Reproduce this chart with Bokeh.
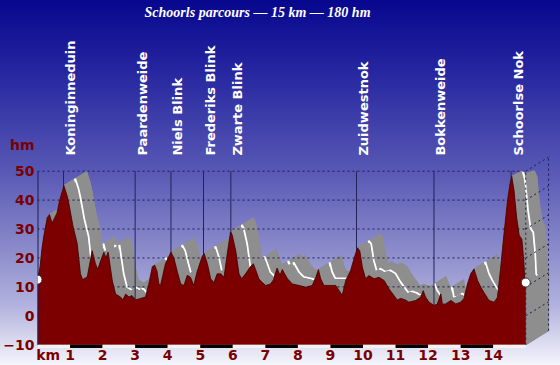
import math
from bokeh.plotting import figure
from bokeh.models import Range1d, FixedTicker
from bokeh.core.properties import value
from bokeh.embed import file_html
from bokeh.resources import INLINE

# ---------------- data ----------------
km = [0.00, 0.08, 0.14, 0.20, 0.30, 0.37, 0.45, 0.53, 0.60, 0.68, 0.81, 0.91, 0.96,
      1.09, 1.22, 1.32, 1.39, 1.53, 1.68, 1.78, 1.85, 1.94, 2.04, 2.10, 2.17, 2.30,
      2.40, 2.55, 2.62, 2.71, 2.81, 2.90, 3.01, 3.17, 3.32, 3.42, 3.53, 3.60, 3.67,
      3.73, 3.78, 3.85, 3.93, 4.10, 4.19, 4.29, 4.40, 4.50, 4.60, 4.70, 4.80, 4.91,
      5.06, 5.12, 5.22, 5.32, 5.42, 5.52, 5.63, 5.73, 5.83, 5.93, 5.98, 6.09, 6.19,
      6.27, 6.39, 6.53, 6.63, 6.70, 6.80, 6.90, 7.01, 7.16, 7.25, 7.36, 7.45, 7.52,
      7.68, 7.83, 8.03, 8.24, 8.44, 8.55, 8.63, 8.70, 8.80, 8.96, 9.16, 9.31, 9.36,
      9.47, 9.62, 9.74, 9.83, 9.90, 9.98, 10.08, 10.18, 10.34, 10.49, 10.65, 10.80,
      10.95, 11.05, 11.16, 11.30, 11.41, 11.62, 11.77, 11.85, 11.92, 12.03, 12.18,
      12.28, 12.39, 12.44, 12.54, 12.70, 12.85, 13.00, 13.10, 13.21, 13.31, 13.41,
      13.52, 13.62, 13.72, 13.87, 14.03, 14.13, 14.23, 14.33, 14.44, 14.51, 14.57,
      14.64, 14.72, 14.80, 14.88, 14.94, 14.97, 15.00]
hm = [12.5, 17.0, 23.5, 28.0, 34.0, 35.0, 32.0, 34.0, 35.5, 40.0, 45.0, 41.5, 39.0,
      31.0, 25.0, 14.5, 12.5, 13.5, 22.5, 18.0, 16.0, 19.0, 22.0, 20.0, 22.0, 12.0,
      7.5, 6.5, 5.5, 7.5, 6.5, 7.0, 5.5, 6.0, 6.5, 11.0, 17.0, 17.5, 15.5,
      11.0, 10.5, 14.0, 18.0, 22.0, 20.0, 15.5, 11.0, 10.5, 14.0, 13.3, 10.5, 15.5,
      20.5, 21.5, 18.0, 12.8, 11.5, 14.5, 14.5, 13.3, 21.5, 29.0, 28.0, 22.5, 14.5,
      12.8, 14.5, 16.8, 18.0, 16.0, 12.8, 11.6, 10.5, 11.0, 12.5, 16.5, 14.0, 16.0,
      12.8, 11.0, 10.5, 9.9, 10.5, 13.3, 16.0, 12.8, 10.5, 10.5, 10.5, 8.0, 7.0,
      12.2, 15.7, 20.3, 23.5, 22.5, 16.8, 12.8, 13.9, 12.8, 13.3, 12.2, 9.3,
      7.0, 5.5, 6.0, 5.5, 4.7, 5.3, 6.4, 8.7, 6.5, 4.7, 3.6,
      4.0, 7.6, 4.0, 4.1, 5.3, 4.1, 4.7, 6.0, 11.0, 14.5, 16.2,
      12.2, 9.9, 8.0, 5.3, 4.7, 6.4, 16.8, 28.3, 40.0, 45.6, 48.2,
      43.3, 34.0, 27.8, 26.5, 19.0, 12.0, 11.5]

landmark_names = ["Koninginneduin", "Paardenweide", "Niels Blink", "Frederiks Blink",
                  "Zwarte Blink", "Zuidwestnok", "Bokkenweide", "Schoorlse Nok"]
landmark_km = [0.80, 3.00, 4.10, 5.10, 5.94, 9.80, 12.18, 14.55]

km_ticks = list(range(1, 15))
hm_ticks = [-10, 0, 10, 20, 30, 40, 50]
title_text = "Schoorls parcours \u2014 15 km \u2014 180 hm"
x_unit = "km"
y_unit = "hm"
x_unit_pos = 0.33      # where the unit name sits on the km axis
y_unit_pos = 59        # where the unit name sits on the hm axis

# ---------------- style ----------------
RED = "#7d0000"
GREY = "#8e8e8e"
GRID = "#1c1c52"
LABEL_RED = "#7a0000"
DX, DY = 0.70, 4.85          # 3-D depth offset (data units)
Y_MIN, Y_MAX = hm_ticks[0], hm_ticks[-1]
KM_END = km[-1]

p = figure(width=560, height=365, output_backend="svg", toolbar_location=None,
           x_range=Range1d(0, 16.067), y_range=Range1d(-11.31, 109.02),
           min_border_left=37, min_border_right=0, min_border_top=0,
           min_border_bottom=17)
p.styles = {"background": "linear-gradient(180deg, #07078f 0%, #2a2aa2 22%, "
                          "#5656b4 46%, #8585c9 66%, #b3b3de 84%, #f5f5fc 100%)"}
p.background_fill_alpha = 0
p.border_fill_alpha = 0
p.outline_line_color = None
p.xgrid.visible = False
p.ygrid.visible = False


def extrusion(a):
    vx = [km[0]] + km + [km[-1]]
    vy = [Y_MIN] + hm + [Y_MIN]
    sx = [x + a * DX for x in vx]
    sy = [min(y + a * DY, Y_MAX) for y in vy]
    xs, ys = [sx], [sy]
    n = len(vx)
    for i in range(n):
        j = (i + 1) % n
        xs.append([vx[i], vx[j], sx[j], sx[i]])
        ys.append([vy[i], vy[j], sy[j], sy[i]])
    return xs, ys


# grey 3-D body
xs, ys = extrusion(1.0)
p.patches(xs, ys, fill_color=GREY, line_color=GREY, line_width=0.8)
# white centre line of the road surface
p.line([x + 0.5 * DX for x in km], [min(y + 0.5 * DY, Y_MAX) for y in hm],
       line_color="white", line_width=1.8)
# front half of the surface (occludes the centre line where hidden)
xs, ys = extrusion(0.42)
p.patches(xs, ys, fill_color=GREY, line_color=GREY, line_width=0.8)

# dotted grid
grid_levels = [v for v in hm_ticks if v > Y_MIN]
p.segment(x0=[0] * len(grid_levels), x1=[KM_END] * len(grid_levels),
          y0=grid_levels, y1=grid_levels, line_color=GRID, line_dash="2 3", line_width=1)
p.segment(x0=[KM_END] * len(grid_levels), x1=[KM_END + DX] * len(grid_levels),
          y0=grid_levels, y1=[v + DY for v in grid_levels],
          line_color=GRID, line_dash="2 3", line_width=1)
p.segment(x0=[KM_END, KM_END + DX], x1=[KM_END, KM_END + DX],
          y0=[Y_MIN, Y_MIN + DY], y1=[Y_MAX, Y_MAX + DY],
          line_color=GRID, line_dash="2 3", line_width=1)

# landmark lines
p.segment(x0=landmark_km, x1=landmark_km, y0=[Y_MIN] * len(landmark_km),
          y1=[Y_MAX] * len(landmark_km), line_color="#23235a", line_width=1)

# red profile
p.varea(x=km, y1=[Y_MIN] * len(km), y2=hm, fill_color=RED)
p.line(km, hm, line_color="#3c0000", line_width=0.8)

# left axis line (from -10 to 50 only)
p.segment(x0=[0], x1=[0], y0=[Y_MIN], y1=[Y_MAX], line_color=GRID, line_width=2)

# km band below the profile
bands_left = list(range(0, int(KM_END)))
p.quad(left=bands_left, right=[b + 1 for b in bands_left],
       bottom=[Y_MIN - 1.15] * len(bands_left), top=[Y_MIN] * len(bands_left),
       fill_color=["black" if b % 2 else "#f2f2f2" for b in bands_left],
       line_color=None)

# start / end markers
p.scatter([km[0], km[-1]], [hm[0], hm[-1]], size=9, fill_color="white",
          line_color="#333333", line_width=1)

# landmark names
p.text(x=landmark_km, y=[55.4] * len(landmark_km), text=landmark_names,
       angle=math.pi / 2, text_align="left", text_baseline="middle", x_offset=7,
       text_color="white", text_font=value("DejaVu Sans"), text_font_style="bold",
       text_font_size="13px")

# title
p.text(x=[6.76], y=[104.9], text=[title_text], text_align="center",
       text_baseline="middle", text_color="white",
       text_font=value("Liberation Serif"), text_font_style="bold italic",
       text_font_size="14px")

# axes
p.xaxis.ticker = FixedTicker(ticks=[x_unit_pos] + km_ticks)
p.xaxis.major_label_overrides = {x_unit_pos: x_unit, str(x_unit_pos): x_unit}
p.xaxis.axis_line_color = None
p.xaxis.major_tick_line_color = None
p.xaxis.minor_tick_line_color = None
p.xaxis.major_tick_out = 0
p.xaxis.major_tick_in = 0
p.xaxis.major_label_standoff = -2
p.xaxis.major_label_text_color = LABEL_RED
p.xaxis.major_label_text_font = "DejaVu Sans"
p.xaxis.major_label_text_font_style = "bold"
p.xaxis.major_label_text_font_size = "14px"

p.yaxis.ticker = FixedTicker(ticks=hm_ticks + [y_unit_pos])
p.yaxis.major_label_overrides = {y_unit_pos: y_unit, str(y_unit_pos): y_unit}
p.yaxis.axis_line_color = None
p.yaxis.major_tick_line_color = None
p.yaxis.minor_tick_line_color = None
p.yaxis.major_tick_out = 0
p.yaxis.major_tick_in = 0
p.yaxis.major_label_standoff = 3
p.yaxis.major_label_text_color = LABEL_RED
p.yaxis.major_label_text_font = "DejaVu Sans"
p.yaxis.major_label_text_font_style = "bold"
p.yaxis.major_label_text_font_size = "14px"

open("out.html", "w").write(file_html(p, INLINE))
